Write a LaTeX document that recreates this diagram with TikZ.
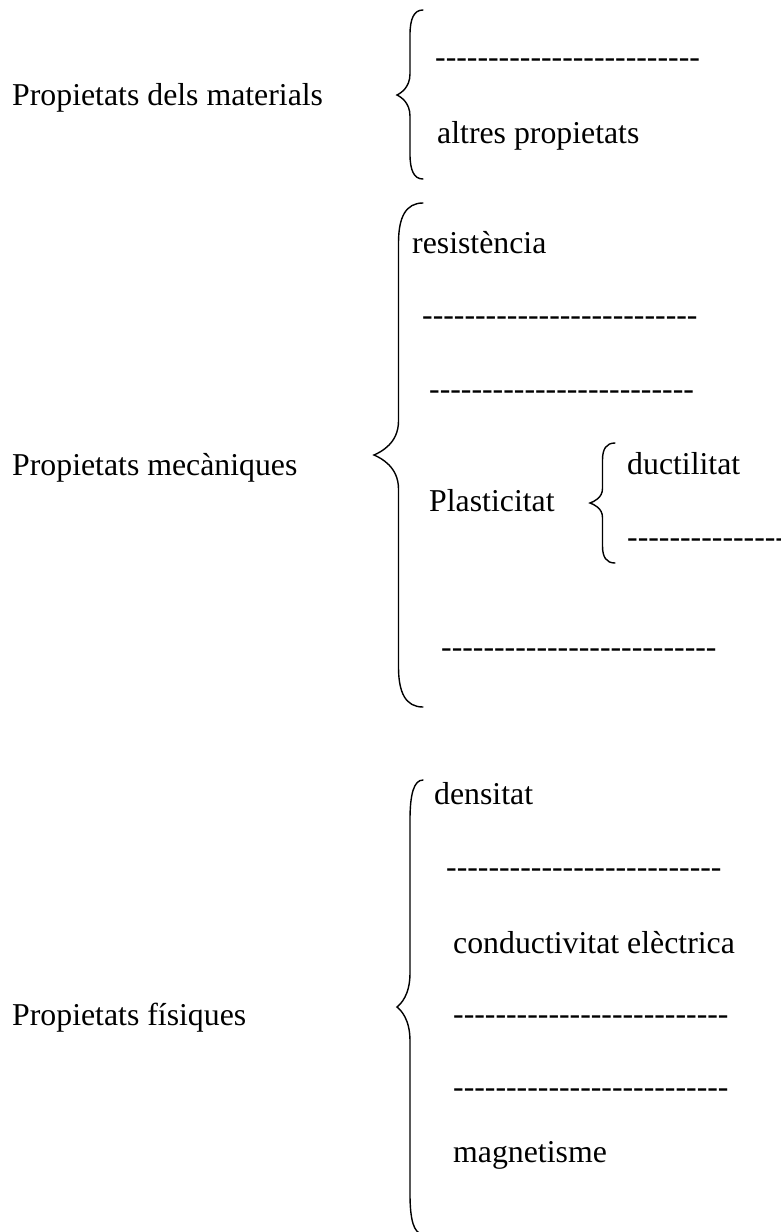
\documentclass[tikz,border=0pt]{standalone}
\usepackage{fontspec}
\setmainfont{Liberation Serif}[Ligatures=TeXOff]
\usepackage{tikz}
\usetikzlibrary{positioning, calc}
\definecolor{inkdark}{RGB}{0,0,0}
\tikzset{
  grouptitle/.style={anchor=base west, inner sep=0pt, text=inkdark,
    font=\fontsize{31.8}{38}\selectfont},
  itemtext/.style={anchor=base west, inner sep=0pt, text=inkdark,
    font=\fontsize{31.8}{38}\selectfont},
  blanktext/.style={anchor=base west, inner sep=0pt, text=inkdark,
    font=\fontsize{31.8}{38}\selectfont},
  brace/.style={draw=inkdark, line width=1.4pt, line cap=round}
}
% left curly brace: tip x, end x, top y, tip y, bottom y, curl size
\newcommand{\wordbrace}[6]{%
  \pgfmathsetmacro{\xv}{(#1+#2)/2}
  \draw[brace] (#2,#3) .. controls ({\xv+0.3*(#2-\xv)},#3) and (\xv,#3+0.35*#6) .. (\xv,#3+#6)
    -- (\xv,#4-0.85*#6) .. controls (\xv,#4-0.3*#6) and ({#1+0.3*(\xv-#1)},#4-0.08*#6) .. (#1,#4)
    .. controls ({#1+0.3*(\xv-#1)},#4+0.08*#6) and (\xv,#4+0.3*#6) .. (\xv,#4+0.85*#6)
    -- (\xv,#5-#6) .. controls (\xv,#5-0.35*#6) and ({\xv+0.3*(#2-\xv)},#5) .. (#2,#5);
}

\begin{document}
\begin{tikzpicture}[x=1pt, y=-1pt]
  \useasboundingbox (0,0) rectangle (781,1232);

  % ── Propietats dels materials ─────────────────────────────────────────────
  \node[grouptitle] (matprop) at (12,105) {Propietats dels materials};
  \node[blanktext]  (blank1)  at (435,67)  {-------------------------};
  \node[itemtext]   (altres)  at (437,143) {altres propietats};
  \wordbrace{397}{423}{10}{95}{179}{25}

  % ── Propietats mecàniques ─────────────────────────────────────────────────
  \node[grouptitle] (mecprop) at (12,475) {Propietats mecàniques};
  \node[itemtext]   (resist)  at (412,253) {resistència};
  \node[blanktext]  (blank2)  at (422,325) {--------------------------};
  \node[blanktext]  (blank3)  at (429,399) {-------------------------};
  \node[itemtext]   (plast)   at (429,511) {Plasticitat};
  \node[itemtext]   (ductil)  at (627,474) {ductilitat};
  \node[blanktext]  (blank4)  at (627,547) {-------------------------};
  \node[blanktext]  (blank5)  at (441,657) {--------------------------};
  \wordbrace{374}{423}{203}{455}{707}{40}
  \wordbrace{590}{615}{443}{503}{563}{17}

  % ── Propietats físiques ───────────────────────────────────────────────────
  \node[grouptitle] (fisprop) at (12,1025) {Propietats físiques};
  \node[itemtext]   (densit)  at (434,804)  {densitat};
  \node[blanktext]  (blank6)  at (446,877)  {--------------------------};
  \node[itemtext]   (conduc)  at (453,953)  {conductivitat elèctrica};
  \node[blanktext]  (blank7)  at (453,1024) {--------------------------};
  \node[blanktext]  (blank8)  at (453,1097) {--------------------------};
  \node[itemtext]   (magnet)  at (453,1162) {magnetisme};
  \wordbrace{397}{423}{780}{1007}{1234}{40}
\end{tikzpicture}
\end{document}
